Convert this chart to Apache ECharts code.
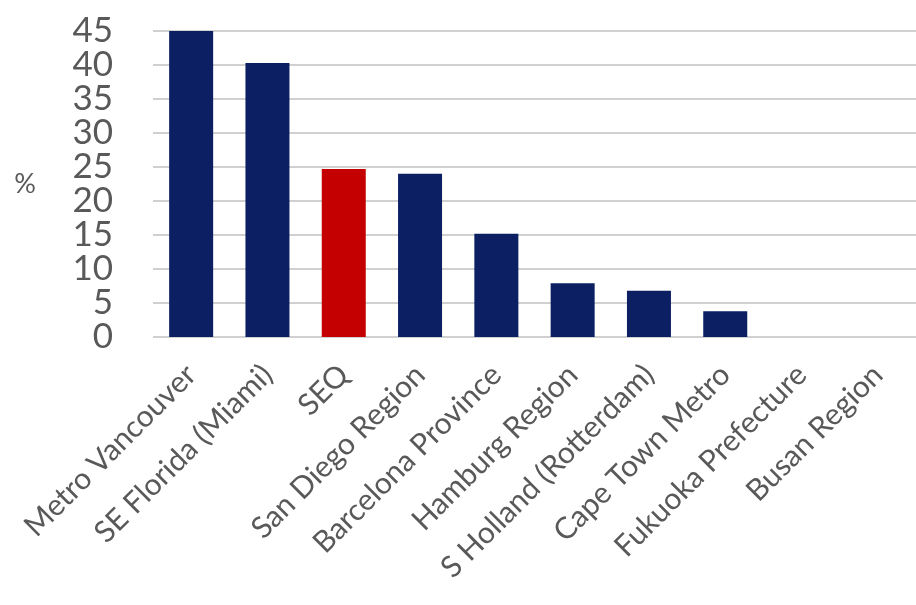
<!DOCTYPE html>
<html>
<head>
<meta charset="utf-8">
<script src="https://cdn.jsdelivr.net/npm/echarts@6/dist/echarts.min.js"></script>
<style>
  html, body { margin: 0; padding: 0; background: #ffffff; }
  #chart { width: 916px; height: 605px; }
</style>
</head>
<body>
<div id="chart"></div>
<script>
// Regions compared, share in percent
const regions = [
  'Metro Vancouver', 'SE Florida (Miami)', 'SEQ', 'San Diego Region',
  'Barcelona Province', 'Hamburg Region', 'S Holland (Rotterdam)',
  'Cape Town Metro', 'Fukuoka Prefecture', 'Busan Region'
];
const shares = [45, 40.3, 24.7, 24.0, 15.2, 7.9, 6.8, 3.8, 0, 0];
const highlighted = 'SEQ';
const yTicks = { min: 0, max: 45, step: 5 };

const NAVY = '#0b1f62';
const RED = '#c40000';
const TEXT = '#595959';
const FONT = 'Lato, "Open Sans", sans-serif';

// The tick labels sit closer together than their font height, so they are
// split over two identical left axes (odd and even multiples of the step)
// to keep the library from dropping any of them as overlapping.
const labelStyle = { margin: 40, color: TEXT, fontFamily: FONT, fontSize: 35, hideOverlap: false };
const isEven = v => Math.round(v / yTicks.step) % 2 === 0;

const chart = echarts.init(document.getElementById('chart'));
chart.setOption({
  animation: false,
  backgroundColor: '#ffffff',
  grid: { left: 153, right: -6, top: 31, bottom: 268, containLabel: false },
  xAxis: {
    type: 'category',
    data: regions,
    axisLine: { show: false },
    axisTick: { show: false },
    axisLabel: {
      interval: 0,
      rotate: 45,
      margin: 33,
      hideOverlap: false,
      verticalAlign: 'middle',
      align: 'right',
      color: TEXT,
      fontFamily: FONT,
      fontSize: 30
    }
  },
  yAxis: [{
    type: 'value',
    position: 'left',
    min: yTicks.min,
    max: yTicks.max,
    interval: yTicks.step,
    name: '%',
    nameLocation: 'middle',
    nameRotate: 0,
    nameGap: 128,
    nameTextStyle: { color: TEXT, fontFamily: FONT, fontSize: 27, align: 'center', verticalAlign: 'middle' },
    axisLine: { show: false },
    axisTick: { show: false },
    splitLine: { lineStyle: { color: '#d0d0d0', width: 2 } },
    axisLabel: Object.assign({}, labelStyle, {
      showMinLabel: false,
      showMaxLabel: true,
      formatter: v => (isEven(v) ? '' : String(v))
    })
  }, {
    type: 'value',
    position: 'left',
    offset: 0,
    min: yTicks.min,
    max: yTicks.max,
    interval: yTicks.step,
    axisLine: { show: false },
    axisTick: { show: false },
    splitLine: { show: false },
    axisLabel: Object.assign({}, labelStyle, {
      showMinLabel: true,
      showMaxLabel: false,
      formatter: v => (isEven(v) ? String(v) : '')
    })
  }],
  series: [{
    type: 'bar',
    yAxisIndex: 0,
    barWidth: 44,
    data: shares.map((v, i) => ({
      value: v,
      itemStyle: { color: regions[i] === highlighted ? RED : NAVY }
    }))
  }]
});
</script>
</body>
</html>
